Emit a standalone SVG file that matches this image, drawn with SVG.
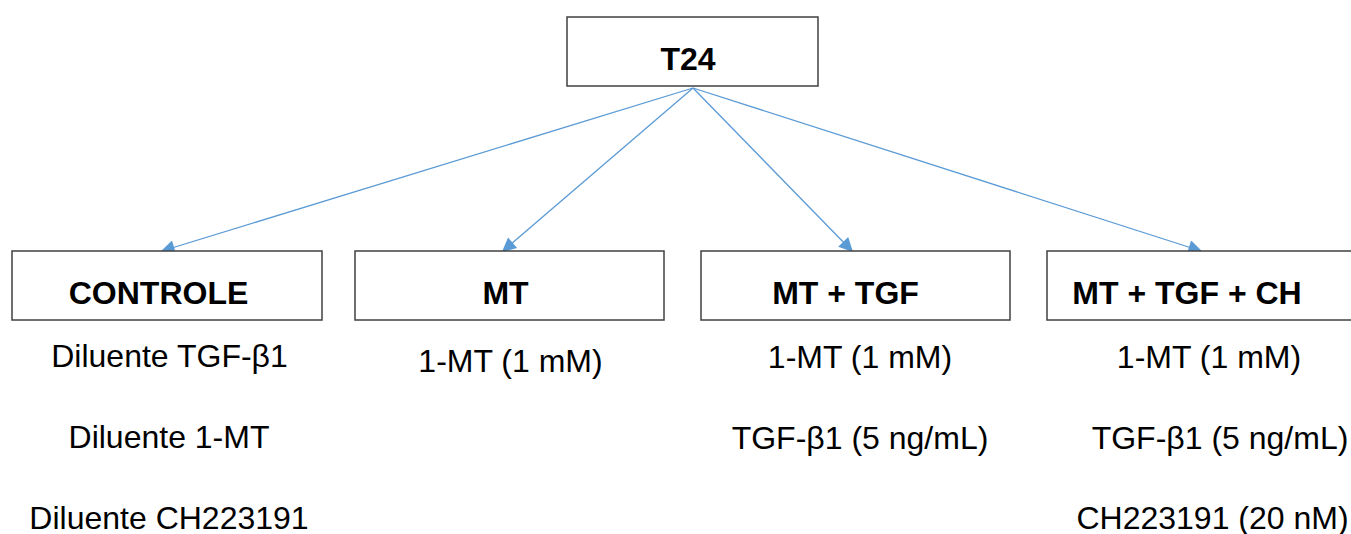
<svg xmlns="http://www.w3.org/2000/svg" width="1351" height="534" viewBox="0 0 1351 534">
<defs>
<style>
.box{fill:#fff;stroke:#404040;stroke-width:1.5}
.h{font-family:"Liberation Sans",Arial,sans-serif;font-weight:bold;font-size:32px;fill:#000;text-anchor:middle}
.t{font-family:"Liberation Sans",Arial,sans-serif;font-size:32px;fill:#000;text-anchor:middle}
.c{stroke:#5b9bd5;stroke-width:1.3;fill:none;marker-end:url(#ah)}
</style>
<marker id="ah" viewBox="0 0 10 10" refX="9" refY="5" markerWidth="16" markerHeight="14" markerUnits="userSpaceOnUse" orient="auto">
<path d="M0,0 L10,5 L0,10 z" fill="#5b9bd5"/>
</marker>
</defs>
<rect width="1351" height="534" fill="#fff"/>
<g id="connectors">
<line class="c" x1="693" y1="88" x2="162" y2="251"/>
<line class="c" x1="693" y1="88" x2="503" y2="251"/>
<line class="c" x1="693" y1="88" x2="852" y2="251"/>
<line class="c" x1="693" y1="88" x2="1201" y2="251"/>
</g>
<g id="t24">
<rect class="box" x="567" y="17" width="251" height="69"/>
<text class="h" x="688" y="70">T24</text>
</g>
<g id="controle">
<rect class="box" x="12" y="251" width="310" height="69"/>
<text class="h" x="158.5" y="304">CONTROLE</text>
<text class="t" x="169.5" y="367">Diluente TGF-β1</text>
<text class="t" x="169" y="448">Diluente 1-MT</text>
<text class="t" x="169" y="529">Diluente CH223191</text>
</g>
<g id="mt">
<rect class="box" x="355" y="251" width="309" height="69"/>
<text class="h" x="505.5" y="304">MT</text>
<text class="t" x="510.5" y="372">1-MT (1 mM)</text>
</g>
<g id="mt-tgf">
<rect class="box" x="701" y="251" width="309" height="69"/>
<text class="h" x="845.5" y="304">MT + TGF</text>
<text class="t" x="860" y="368">1-MT (1 mM)</text>
<text class="t" x="860" y="449">TGF-β1 (5 ng/mL)</text>
</g>
<g id="mt-tgf-ch">
<rect class="box" x="1047" y="251" width="320" height="69"/>
<text class="h" x="1187" y="304">MT + TGF + CH</text>
<text class="t" x="1209" y="368">1-MT (1 mM)</text>
<text class="t" x="1220" y="449">TGF-β1 (5 ng/mL)</text>
<text class="t" x="1212.5" y="529">CH223191 (20 nM)</text>
</g>
</svg>
